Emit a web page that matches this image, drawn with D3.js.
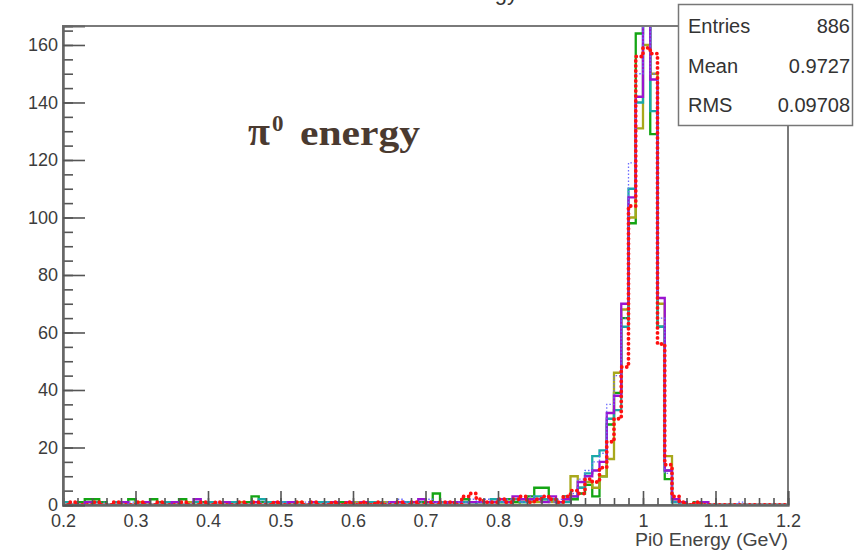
<!DOCTYPE html>
<html>
<head>
<meta charset="utf-8">
<script src="https://cdn.jsdelivr.net/npm/d3@7"></script>
<style>
  body { margin: 0; background: #fff; }
  svg { display: block; }
</style>
</head>
<body>
<svg width="866" height="557"></svg>
<script>
'use strict';

// histogram binning: 100 bins of 0.01 from 0.2
const binStart = 0.2;
const binWidth = 0.01;

// counts per bin, one array per overlaid histogram
const greenCounts = [
  0,0,1,2,2,1,0,0,1,2,  1,0,2,1,0,0,2,1,0,1,  1,0,1,0,1,1,3,1,0,1,  1,0,1,0,0,1,0,0,1,0,
  0,1,0,1,1,0,1,0,1,1,  1,4,1,0,1,2,1,0,1,1,  1,2,1,1,3,6,6,2,1,3,  2,4,7,3,10,28,39,65,98,164,
  175,129,62,9,1,0,0,1,0,0,  0,0,0,0,0,0,0,0,0,0
];
const oliveCounts = [
  0,0,0,1,1,0,0,0,0,0,  1,0,0,0,0,0,0,1,0,0,  0,0,0,0,1,0,0,0,1,0,  0,0,1,0,0,0,0,1,0,0,
  1,0,0,1,1,1,0,1,0,0,  0,1,1,0,1,0,1,0,1,0,  1,1,0,2,1,1,2,1,1,2,  10,6,8,6,10,16,46,68,100,131,
  160,150,70,17,2,1,0,0,1,0,  0,0,0,0,0,0,0,0,0,0
];
const tealCounts = [
  1,0,0,0,1,0,0,1,0,0,  0,0,0,0,1,0,0,0,1,0,  1,0,0,1,0,0,0,2,1,0,  1,1,0,0,0,1,1,0,0,0,
  0,0,1,1,0,1,0,1,0,0,  1,0,1,1,0,1,0,1,1,2,  1,1,2,1,2,3,2,2,1,1,  3,6,11,17,19,30,33,62,110,140,
  180,137,62,12,1,0,0,0,0,0,  0,0,0,0,0,0,0,0,0,0
];
const purpleCounts = [
  0,0,0,1,0,0,0,0,1,0,  0,1,0,0,0,1,0,0,2,0,  0,0,1,0,0,0,1,0,0,1,  0,1,0,0,1,0,0,1,0,1,
  0,1,0,0,0,1,1,0,1,2,  1,1,0,1,1,0,1,1,1,1,  2,1,3,2,2,2,1,3,1,2,  3,8,10,12,15,32,38,70,107,142,
  172,148,72,12,2,1,0,0,1,0,  0,0,0,0,0,0,0,0,0,0
];
const blueCounts = [
  0,1,0,0,0,1,0,0,0,1,  0,0,0,1,0,0,0,0,0,1,  0,1,0,0,0,0,0,1,0,0,  1,0,0,1,0,0,1,0,0,0,
  1,0,0,0,1,0,2,1,0,1,  2,1,1,0,1,1,2,1,2,1,  1,2,2,1,3,2,3,1,2,3,  4,9,12,15,18,35,45,65,119,150,
  178,150,65,11,1,1,0,1,0,0,  0,0,0,1,0,0,0,0,0,0
];
const redCounts = [
  0,1,0,0,1,0,0,1,0,0,  1,0,0,1,0,0,1,0,0,1,  0,1,0,0,1,0,1,0,0,1,  0,0,1,0,1,0,0,1,0,1,
  0,1,0,1,0,0,1,0,1,0,  1,0,1,1,0,3,4,2,1,1,  2,1,2,3,1,2,3,2,1,3,  5,4,9,8,13,22,30,48,104,156,
  159,157,56,14,3,1,0,1,0,0,  0,0,0,0,0,0,0,0,0,0
];

const xTicks = [0.2, 0.3, 0.4, 0.5, 0.6, 0.7, 0.8, 0.9, 1.0, 1.1, 1.2];
const yTicks = [0, 20, 40, 60, 80, 100, 120, 140, 160];

const statsLabels = ["Entries", "Mean", "RMS"];
const statsValues = ["886", "0.9727", "0.09708"];

const series = [
  {name: "green",  counts: greenCounts,  color: "#14a514", width: 2.3, dash: null},
  {name: "olive",  counts: oliveCounts,  color: "#a8a81c", width: 2.3, dash: null},
  {name: "teal",   counts: tealCounts,   color: "#1aa8a8", width: 2.3, dash: null},
  {name: "purple", counts: purpleCounts, color: "#9a14d0", width: 2.3, dash: null},
  {name: "blue",   counts: blueCounts,   color: "#6a6aff", width: 1.3, dash: "1.5 2"},
  {name: "red",    counts: redCounts,    color: "#ff1010", width: 3.8, dash: "0 5"}
];

const svg = d3.select("svg");
const margin = {top: 26, right: 78, bottom: 52, left: 63};
const width = +svg.attr("width") - margin.left - margin.right;    // 725
const height = +svg.attr("height") - margin.top - margin.bottom;  // 479

const x = d3.scaleLinear().domain([0.2, 1.2]).range([0, width]);
const y = d3.scaleLinear().domain([0, 166.6]).range([height, 0]);

// histogram title, cut off by the top edge (only its lowest part shows)
svg.append("text")
    .attr("x", 518)
    .attr("y", 0)
    .attr("text-anchor", "end")
    .attr("fill", "#333")
    .style("font-family", "'Liberation Sans', Arial, sans-serif")
    .style("font-size", "22px")
    .text("Pi0 Energy");

const frame = svg.append("g")
    .attr("transform", "translate(" + margin.left + "," + margin.top + ")");

svg.append("defs").append("clipPath")
    .attr("id", "clip")
  .append("rect")
    .attr("x", 0).attr("y", 0)
    .attr("width", width).attr("height", height);

// histograms as step lines
const line = d3.line()
    .x(d => x(d.lo))
    .y(d => y(d.v))
    .curve(d3.curveStepAfter);

function stepPoints(counts) {
  const pts = [{lo: binStart, v: 0}];
  counts.forEach((c, i) => pts.push({lo: binStart + i * binWidth, v: c}));
  const end = binStart + counts.length * binWidth;
  pts.push({lo: end, v: counts[counts.length - 1]});
  pts.push({lo: end, v: 0});
  return pts;
}

const hists = frame.append("g").attr("clip-path", "url(#clip)");
series.forEach(s => {
  hists.append("path")
      .datum(stepPoints(s.counts))
      .attr("class", "hist " + s.name)
      .attr("fill", "none")
      .attr("stroke", s.color)
      .attr("stroke-width", s.width)
      .attr("stroke-linecap", s.name === "red" ? "round" : "butt")
      .attr("stroke-dasharray", s.dash)
      .attr("d", line);
});

// frame box
frame.append("rect")
    .attr("x", 0).attr("y", 0)
    .attr("width", width).attr("height", height)
    .attr("fill", "none")
    .attr("stroke", "#7a7a7a")
    .attr("stroke-width", 2);

// x axis: ticks drawn inward (ROOT style)
const xMinor = d3.range(0, 51).map(i => 0.2 + i * 0.02);
const xAxisG = frame.append("g")
    .attr("class", "axis axis--x")
    .attr("transform", "translate(0," + height + ")");
xAxisG.call(d3.axisBottom(x).tickValues(xMinor).tickSize(-7).tickFormat(""));
xAxisG.append("g").call(d3.axisBottom(x).tickValues(xTicks).tickSize(-14)
    .tickFormat(d => d === 1 ? "1" : d3.format(".1f")(d)));
xAxisG.selectAll("path.domain").attr("stroke", "#666").attr("stroke-width", 2);
xAxisG.selectAll(".tick line").attr("stroke", "#555").attr("stroke-width", 1.6);
xAxisG.selectAll(".tick text")
    .attr("y", 9)
    .attr("dy", "0.71em")
    .attr("fill", "#3c3c3c")
    .style("font-family", "'Liberation Sans', Arial, sans-serif")
    .style("font-size", "18px");

// y axis
const yMinor = d3.range(0, 34).map(i => i * 5);
const yAxisG = frame.append("g").attr("class", "axis axis--y");
yAxisG.call(d3.axisLeft(y).tickValues(yMinor).tickSize(-10).tickFormat(""));
yAxisG.append("g").call(d3.axisLeft(y).tickValues(yTicks).tickSize(-22).tickPadding(4));
yAxisG.selectAll("path.domain").attr("stroke", "#666").attr("stroke-width", 2);
yAxisG.selectAll(".tick line").attr("stroke", "#555").attr("stroke-width", 1.6);
yAxisG.selectAll(".tick text")
    .attr("x", -5)
    .attr("fill", "#3c3c3c")
    .style("font-family", "'Liberation Sans', Arial, sans-serif")
    .style("font-size", "18px");

// x axis title, right aligned at the end of the axis
frame.append("text")
    .attr("x", width)
    .attr("y", height + 41)
    .attr("text-anchor", "end")
    .attr("fill", "#444")
    .attr("textLength", 153)
    .attr("lengthAdjust", "spacingAndGlyphs")
    .style("font-family", "'Liberation Sans', Arial, sans-serif")
    .style("font-size", "18px")
    .text("Pi0 Energy (GeV)");

// stats box
const stats = svg.append("g").attr("class", "stats");
stats.append("rect")
    .attr("x", 678.5).attr("y", 4.5)
    .attr("width", 174).attr("height", 121)
    .attr("fill", "#fff")
    .attr("stroke", "#777")
    .attr("stroke-width", 1.5);
statsLabels.forEach((lab, i) => {
  stats.append("text")
      .attr("x", 688)
      .attr("y", 33 + i * 39.5)
      .attr("fill", "#333")
      .style("font-family", "'Liberation Sans', Arial, sans-serif")
      .style("font-size", "20px")
      .text(lab);
  stats.append("text")
      .attr("x", 850)
      .attr("y", 33 + i * 39.5)
      .attr("text-anchor", "end")
      .attr("fill", "#333")
      .style("font-family", "'Liberation Sans', Arial, sans-serif")
      .style("font-size", "20px")
      .text(statsValues[i]);
});

// annotation "π0 energy"
const note = svg.append("g")
    .attr("fill", "#4a3a30")
    .style("font-family", "'Liberation Serif', 'DejaVu Serif', serif")
    .style("font-weight", "bold");
note.append("text")
    .attr("x", 248).attr("y", 145)
    .style("font-size", "40px")
    .text("π");
note.append("text")
    .attr("x", 272).attr("y", 131)
    .style("font-size", "23px")
    .text("0");
note.append("text")
    .attr("x", 300).attr("y", 145)
    .attr("textLength", 120)
    .attr("lengthAdjust", "spacingAndGlyphs")
    .style("font-size", "36px")
    .text("energy");
</script>
</body>
</html>
